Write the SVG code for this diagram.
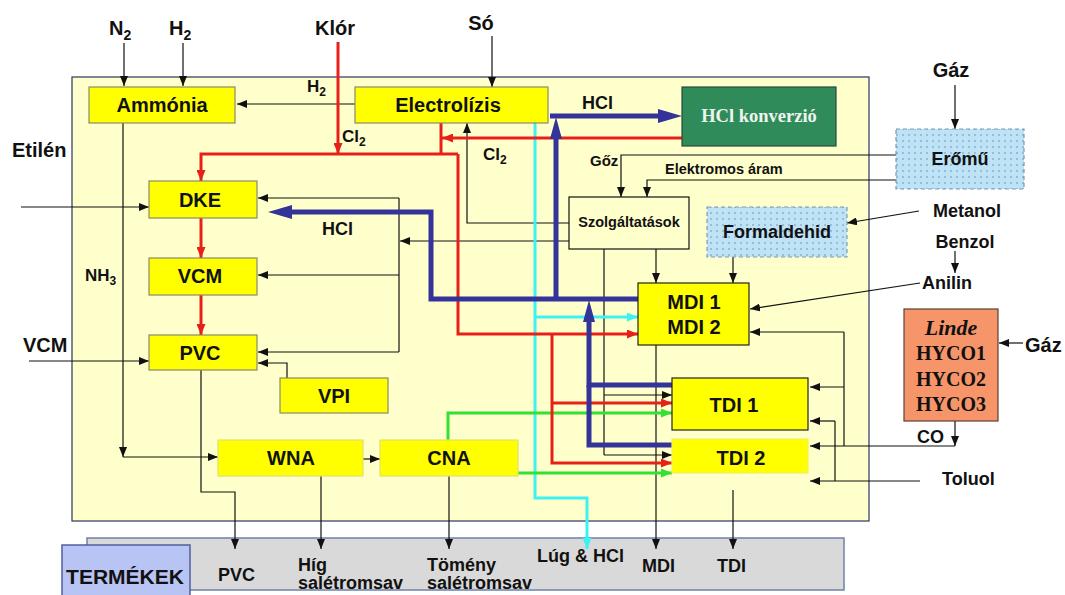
<svg xmlns="http://www.w3.org/2000/svg" width="1065" height="595" viewBox="0 0 1065 595">
<defs>
<style>
text{font-family:"Liberation Sans",Arial,sans-serif;font-weight:bold;fill:#111}
.box{fill:#FFFF00;stroke:#8A8A6A;stroke-width:1.2}
.bt{font-size:20px;text-anchor:middle}
.lb{font-size:18px}
.k{fill:none;stroke:#111;stroke-width:1.2}
.r{fill:none;stroke:#E8201A;stroke-width:3}
.c{fill:none;stroke:#3CF2F2;stroke-width:3}
.g{fill:none;stroke:#33E033;stroke-width:3}
.b{fill:none;stroke:#333399;stroke-width:5}
.dot{fill:url(#dots);stroke:#7A9AB8;stroke-width:1.2;stroke-dasharray:4 3}
.serif{font-family:"Liberation Serif","Times New Roman",serif}
</style>
<pattern id="dots" width="6" height="6" patternUnits="userSpaceOnUse">
<rect width="6" height="6" fill="#BEE2F6"/>
<circle cx="3" cy="3" r="0.7" fill="#5A7A9A"/>
</pattern>
<marker id="ak" viewBox="0 0 10 8" refX="10" refY="4" markerWidth="10" markerHeight="8" markerUnits="userSpaceOnUse" orient="auto"><path d="M0,0L10,4L0,8z" fill="#111"/></marker>
<marker id="ar" viewBox="0 0 11 9" refX="11" refY="4.5" markerWidth="11" markerHeight="9" markerUnits="userSpaceOnUse" orient="auto"><path d="M0,0L11,4.5L0,9z" fill="#E8201A"/></marker>
<marker id="ac" viewBox="0 0 11 9" refX="11" refY="4.5" markerWidth="11" markerHeight="9" markerUnits="userSpaceOnUse" orient="auto"><path d="M0,0L11,4.5L0,9z" fill="#3CF2F2"/></marker>
<marker id="ag" viewBox="0 0 11 9" refX="11" refY="4.5" markerWidth="11" markerHeight="9" markerUnits="userSpaceOnUse" orient="auto"><path d="M0,0L11,4.5L0,9z" fill="#33E033"/></marker>
<marker id="ab" viewBox="0 0 24 14" refX="12" refY="7" markerWidth="24" markerHeight="14" markerUnits="userSpaceOnUse" orient="auto"><path d="M0,0L24,7L0,14z" fill="#333399"/></marker>
<marker id="ab2" viewBox="0 0 22 12" refX="11" refY="6" markerWidth="22" markerHeight="12" markerUnits="userSpaceOnUse" orient="auto"><path d="M0,0L22,6L0,12z" fill="#333399"/></marker>
</defs>
<rect width="1065" height="595" fill="#FFFFFF"/>
<g id="background">
<rect x="72" y="77" width="797" height="444" fill="#FFFFCC" stroke="#2A3560" stroke-width="1.2"/>
<rect x="87" y="538" width="757" height="52" fill="#D9D9D9" stroke="#6F80A8" stroke-width="1.5"/>
</g>
<g id="connectors">
<!-- black thin -->
<path class="k" d="M124,43V86" marker-end="url(#ak)"/>
<path class="k" d="M183,43V86" marker-end="url(#ak)"/>
<path class="k" d="M492,36V87" marker-end="url(#ak)"/>
<path class="k" d="M355,104H237" marker-end="url(#ak)"/>
<path class="k" d="M21,207H149" marker-end="url(#ak)"/>
<path class="k" d="M29,361H149" marker-end="url(#ak)"/>
<path class="k" d="M123,123V457" marker-end="url(#ak)"/>
<path class="k" d="M123,457H218" marker-end="url(#ak)"/>
<path class="k" d="M399,198V352"/>
<path class="k" d="M399,198H258" marker-end="url(#ak)"/>
<path class="k" d="M399,275H258" marker-end="url(#ak)"/>
<path class="k" d="M399,352H258" marker-end="url(#ak)"/>
<path class="k" d="M569,241H400" marker-end="url(#ak)"/>
<path class="k" d="M569,223H467V123" marker-end="url(#ak)"/>
<path class="k" d="M287,378V363H258" marker-end="url(#ak)"/>
<path class="k" d="M201,370V492H235V549" marker-end="url(#ak)"/>
<path class="k" d="M356,459H380" marker-end="url(#ak)"/>
<path class="k" d="M321,476V549" marker-end="url(#ak)"/>
<path class="k" d="M449,476V549" marker-end="url(#ak)"/>
<path class="k" d="M896,155H621V197" marker-end="url(#ak)"/>
<path class="k" d="M896,180H647V197" marker-end="url(#ak)"/>
<path class="k" d="M955,85V129" marker-end="url(#ak)"/>
<path class="k" d="M919,211L847,223" marker-end="url(#ak)"/>
<path class="k" d="M955,251V273" marker-end="url(#ak)"/>
<path class="k" d="M920,283L750,309" marker-end="url(#ak)"/>
<path class="k" d="M733,257V283" marker-end="url(#ak)"/>
<path class="k" d="M656,249V283" marker-end="url(#ak)"/>
<path class="k" d="M604,249V455"/>
<path class="k" d="M604,395H672" marker-end="url(#ak)"/>
<path class="k" d="M604,455H672" marker-end="url(#ak)"/>
<path class="k" d="M656,345V549" marker-end="url(#ak)"/>
<path class="k" d="M733,490V549" marker-end="url(#ak)"/>
<path class="k" d="M844,332V446"/>
<path class="k" d="M844,332H750" marker-end="url(#ak)"/>
<path class="k" d="M844,387H810" marker-end="url(#ak)"/>
<path class="k" d="M955,446H810" marker-end="url(#ak)"/>
<path class="k" d="M955,421V446" marker-end="url(#ak)"/>
<path class="k" d="M920,481H810" marker-end="url(#ak)"/>
<path class="k" d="M835,421V481"/>
<path class="k" d="M835,421H810" marker-end="url(#ak)"/>
<path class="k" d="M1023,343H999" marker-end="url(#ak)"/>
<!-- cyan -->
<path class="c" d="M535,123V498H587V549" marker-end="url(#ac)"/>
<path class="c" d="M535,317H638" marker-end="url(#ac)"/>
<!-- green -->
<path class="g" d="M448,440V413H672" marker-end="url(#ag)"/>
<path class="g" d="M518,473H672" marker-end="url(#ag)"/>
<!-- red -->
<path class="r" d="M338,42V154" marker-end="url(#ar)"/>
<path class="r" d="M441,123V154"/>
<path class="r" d="M682,138H442" marker-end="url(#ar)"/>
<path class="r" d="M458,154H201V181" marker-end="url(#ar)"/>
<path class="r" d="M458,154V334H638" marker-end="url(#ar)"/>
<path class="r" d="M552,334V463H672" marker-end="url(#ar)"/>
<path class="r" d="M552,403H672" marker-end="url(#ar)"/>
<path class="r" d="M201,218V258" marker-end="url(#ar)"/>
<path class="r" d="M201,295V335" marker-end="url(#ar)"/>
<!-- blue -->
<path class="b" d="M550,116H670" marker-end="url(#ab)"/>
<path class="b" d="M556,299V128" marker-end="url(#ab2)"/>
<path class="b" d="M638,299H431V212H280" marker-end="url(#ab)"/>
<path class="b" d="M672,385H589V311" marker-end="url(#ab2)"/>
<path class="b" d="M672,445H589V385"/>
</g>
<g id="ammonia"><rect class="box" x="89" y="87" width="146" height="36"/><text class="bt" x="162" y="112">Ammónia</text></g>
<g id="electrolizis"><rect class="box" x="355" y="87" width="193" height="36"/><text class="bt" x="448" y="112">Electrolízis</text></g>
<g id="hcl-konverzio"><rect x="682" y="87" width="154" height="59" fill="#2F8C5A" stroke="#2A4A38" stroke-width="1.2"/><text class="serif" x="759" y="122" font-size="18.5" text-anchor="middle" style="fill:#EEF4EE">HCl konverzió</text></g>
<g id="eromu"><rect class="dot" x="896" y="129" width="128" height="60"/><text class="lb" x="960" y="165" text-anchor="middle">Erőmű</text></g>
<g id="szolgaltatasok"><rect x="569" y="197" width="120" height="52" fill="#FFFFCC" stroke="#111" stroke-width="1.2"/><text x="629" y="227" font-size="14.5" text-anchor="middle">Szolgáltatások</text></g>
<g id="formaldehid"><rect class="dot" x="707" y="207" width="140" height="50"/><text class="lb" x="777" y="238" text-anchor="middle">Formaldehid</text></g>
<g id="dke"><rect class="box" x="149" y="181" width="108" height="37"/><text class="bt" x="200" y="207">DKE</text></g>
<g id="vcm"><rect class="box" x="149" y="258" width="108" height="37"/><text class="bt" x="200" y="283">VCM</text></g>
<g id="pvc"><rect class="box" x="149" y="335" width="108" height="35"/><text class="bt" x="200" y="360">PVC</text></g>
<g id="vpi"><rect class="box" x="280" y="378" width="108" height="35"/><text class="bt" x="334" y="403">VPI</text></g>
<g id="wna"><rect class="box" x="218" y="440" width="145" height="36" style="stroke:#E0E070"/><text class="bt" x="291" y="465">WNA</text></g>
<g id="cna"><rect class="box" x="380" y="440" width="138" height="36" style="stroke:#E0E070"/><text class="bt" x="449" y="465">CNA</text></g>
<g id="mdi"><rect class="box" x="638" y="283" width="111" height="62" style="stroke:#222"/><text class="bt" x="694" y="309">MDI 1</text><text class="bt" x="694" y="334">MDI 2</text></g>
<g id="tdi1"><rect class="box" x="672" y="378" width="136" height="52" style="stroke:#222"/><text class="bt" x="734" y="412">TDI 1</text></g>
<g id="tdi2"><rect class="box" x="672" y="439" width="136" height="34" style="stroke:#F0F060"/><text class="bt" x="741" y="465">TDI 2</text></g>
<g id="linde"><rect x="904" y="309" width="94" height="112" fill="#F7956A" stroke="#5A4035" stroke-width="1.2"/>
<text class="serif" x="951" y="335" font-size="22" font-style="italic" font-weight="normal" text-anchor="middle">Linde</text>
<text class="serif" x="951" y="360" font-size="20" text-anchor="middle">HYCO1</text>
<text class="serif" x="951" y="386" font-size="20" text-anchor="middle">HYCO2</text>
<text class="serif" x="951" y="411" font-size="20" text-anchor="middle">HYCO3</text></g>
<g id="termekek"><rect x="62" y="545" width="128" height="60" fill="#B8C4F4" stroke="#4F5F9F" stroke-width="1.5"/><text x="125" y="584" font-size="21" text-anchor="middle">TERMÉKEK</text></g>
<g id="labels">
<text x="109" y="35" font-size="20">N<tspan font-size="14" dy="5">2</tspan></text>
<text x="169" y="35" font-size="20">H<tspan font-size="14" dy="5">2</tspan></text>
<text x="335" y="35" font-size="20" text-anchor="middle">Klór</text>
<text x="481" y="30" font-size="20" text-anchor="middle">Só</text>
<text x="307" y="92" font-size="17">H<tspan font-size="12" dy="4">2</tspan></text>
<text x="342" y="142" font-size="17">Cl<tspan font-size="12" dy="4">2</tspan></text>
<text x="483" y="160" font-size="17">Cl<tspan font-size="12" dy="4">2</tspan></text>
<text class="lb" x="582" y="109">HCl</text>
<text class="lb" x="322" y="235">HCl</text>
<text x="951" y="77" font-size="20" text-anchor="middle">Gáz</text>
<text x="590" y="166" font-size="15">Gőz</text>
<text x="665" y="174" font-size="14.5">Elektromos áram</text>
<text class="lb" x="967" y="217" text-anchor="middle">Metanol</text>
<text class="lb" x="965" y="248" text-anchor="middle">Benzol</text>
<text class="lb" x="947" y="289" text-anchor="middle">Anilin</text>
<text x="1025" y="352" font-size="20">Gáz</text>
<text class="lb" x="917" y="443">CO</text>
<text class="lb" x="942" y="485">Toluol</text>
<text x="12" y="157" font-size="20">Etilén</text>
<text x="23" y="352" font-size="20">VCM</text>
<text x="85" y="281" font-size="17">NH<tspan font-size="12" dy="4">3</tspan></text>
<text class="lb" x="218" y="581">PVC</text>
<text class="lb" x="298" y="571">Híg</text>
<text class="lb" x="298" y="589">salétromsav</text>
<text class="lb" x="427" y="571">Tömény</text>
<text class="lb" x="427" y="589">salétromsav</text>
<text class="lb" x="537" y="562">Lúg &amp; HCl</text>
<text class="lb" x="642" y="572">MDI</text>
<text class="lb" x="717" y="572">TDI</text>
</g>
</svg>
